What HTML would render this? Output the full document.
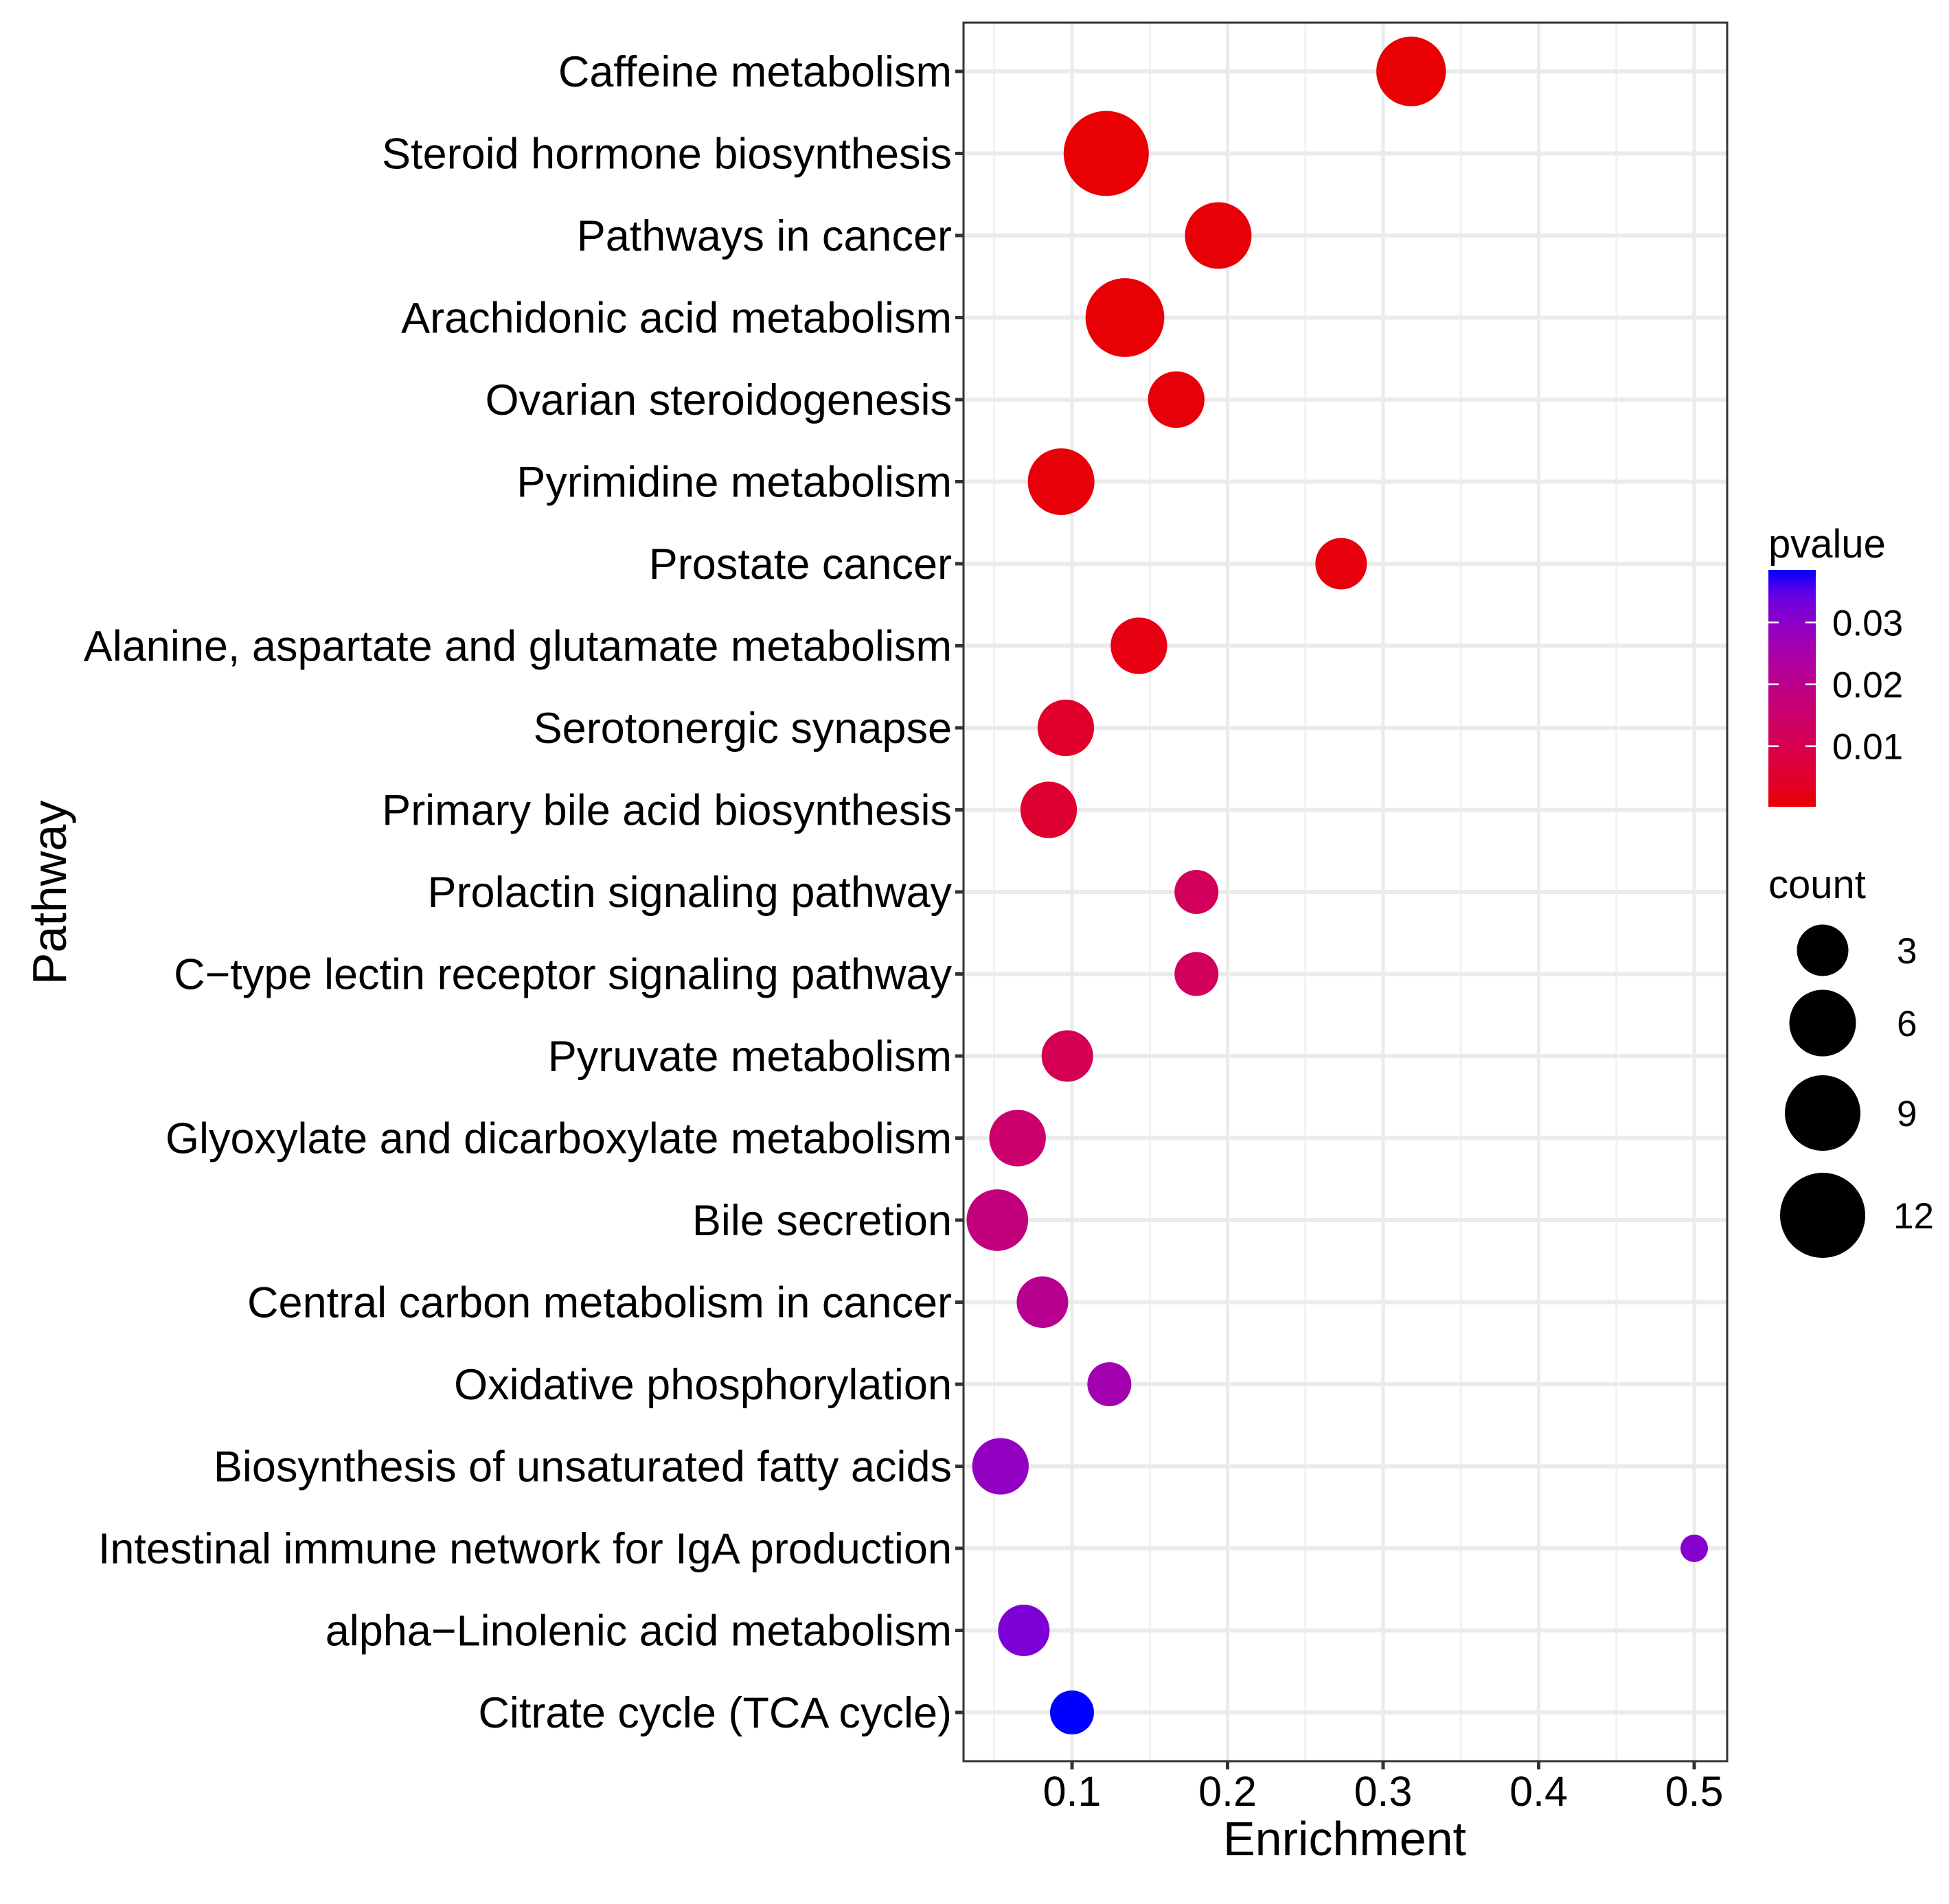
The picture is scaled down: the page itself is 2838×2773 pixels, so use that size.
<!DOCTYPE html>
<html><head><meta charset="utf-8"><style>
html,body{margin:0;padding:0;background:#fff;}
svg{display:block;font-family:"Liberation Sans",sans-serif;}
</style></head><body>
<svg id="chart" width="2838" height="2773" viewBox="0 0 2838 2773" xmlns="http://www.w3.org/2000/svg">
<defs><linearGradient id="pgrad" x1="0" y1="1" x2="0" y2="0"></linearGradient></defs>
</svg>
<script>
const pathways = ["Caffeine metabolism","Steroid hormone biosynthesis","Pathways in cancer","Arachidonic acid metabolism","Ovarian steroidogenesis","Pyrimidine metabolism","Prostate cancer","Alanine, aspartate and glutamate metabolism","Serotonergic synapse","Primary bile acid biosynthesis","Prolactin signaling pathway","C\u2212type lectin receptor signaling pathway","Pyruvate metabolism","Glyoxylate and dicarboxylate metabolism","Bile secretion","Central carbon metabolism in cancer","Oxidative phosphorylation","Biosynthesis of unsaturated fatty acids","Intestinal immune network for IgA production","alpha\u2212Linolenic acid metabolism","Citrate cycle (TCA cycle)"];
const enrichment = [0.318,0.122,0.194,0.134,0.167,0.093,0.273,0.143,0.096,0.085,0.180,0.180,0.097,0.065,0.052,0.081,0.124,0.054,0.500,0.069,0.100];
const counts = [7,12,6,10,4,6,3,4,4,4,2,2,3,4,5,3,2,4,1,3,2];
const pvalues = [0.0005,0.0004,0.0006,0.0005,0.0008,0.0009,0.0010,0.0015,0.0045,0.0055,0.0120,0.0125,0.0110,0.0150,0.0180,0.0210,0.0260,0.0290,0.0310,0.0320,0.0385];
const xTicks = [0.1,0.2,0.3,0.4,0.5];
const xTickLabels = ["0.1","0.2","0.3","0.4","0.5"];
const xMinor = [0.05,0.15,0.25,0.35,0.45];
const pTicks = [0.01,0.02,0.03];
const pTickLabels = ["0.01","0.02","0.03"];
const sizeBreaks = [3,6,9,12];
const sizeBreakLabels = ["3","6","9","12"];

const NS="http://www.w3.org/2000/svg";
const svg=document.getElementById('chart');
function mk(tag,attrs,parent){const e=document.createElementNS(NS,tag);for(const k in attrs)e.setAttribute(k,attrs[k]);(parent||svg).appendChild(e);return e;}

const PL=1403,PR=2515,PT=33,PB=2565;
const xScale=v=>1334.5+v*2265;
const yScale=i=>104+i*119.5;
const sizeTblC=[1,2,3,6,9,12], sizeTblD=[40,64,75,97,110,124];
function diam(c){for(let i=0;i<sizeTblC.length-1;i++){if(c<=sizeTblC[i+1]){const t=(c-sizeTblC[i])/(sizeTblC[i+1]-sizeTblC[i]);return sizeTblD[i]+t*(sizeTblD[i+1]-sizeTblD[i]);}}return sizeTblD[sizeTblD.length-1];}
const pMin=0.0002,pMax=0.0385;
function toLin(c){c/=255;return c<=0.04045?c/12.92:Math.pow((c+0.055)/1.055,2.4);}
function toS(c){c=c<=0.0031308?12.92*c:1.055*Math.pow(c,1/2.4)-0.055;return Math.max(0,Math.min(255,Math.round(c*255)));}
function rgb2lab(r,g,b){r=toLin(r);g=toLin(g);b=toLin(b);let X=(r*0.4124+g*0.3576+b*0.1805)/0.95047,Y=r*0.2126+g*0.7152+b*0.0722,Z=(r*0.0193+g*0.1192+b*0.9505)/1.08883;const f=t=>t>0.008856?Math.cbrt(t):7.787*t+16/116;X=f(X);Y=f(Y);Z=f(Z);return[116*Y-16,500*(X-Y),200*(Y-Z)];}
function lab2rgb(L,a,b){let Y=(L+16)/116,X=a/500+Y,Z=Y-b/200;const fi=t=>t*t*t>0.008856?t*t*t:(t-16/116)/7.787;X=fi(X)*0.95047;Y=fi(Y);Z=fi(Z)*1.08883;const r=X*3.2406+Y*-1.5372+Z*-0.4986,g=X*-0.9689+Y*1.8758+Z*0.0415,bb=X*0.0557+Y*-0.2040+Z*1.0570;return`rgb(${toS(r)},${toS(g)},${toS(bb)})`;}
const labR=rgb2lab(232,0,0),labB=rgb2lab(0,0,255);
function colorAt(t){t=Math.max(0,Math.min(1,t));return lab2rgb(labR[0]+(labB[0]-labR[0])*t,labR[1]+(labB[1]-labR[1])*t,labR[2]+(labB[2]-labR[2])*t);}
const pCol=p=>colorAt((p-pMin)/(pMax-pMin));

const panel=mk('rect',{x:PL,y:PT,width:PR-PL,height:PB-PT,fill:'#fff'});

xMinor.forEach(v=>{const l=mk('line',{x1:xScale(v),x2:xScale(v),y1:PT,y2:PB,stroke:'#f2f2f2','stroke-width':3});});
xTicks.forEach(v=>{const l=mk('line',{x1:xScale(v),x2:xScale(v),y1:PT,y2:PB,stroke:'#ebebeb','stroke-width':5});});
pathways.forEach((p,i)=>{const l=mk('line',{x1:PL,x2:PR,y1:yScale(i),y2:yScale(i),stroke:'#ebebeb','stroke-width':6});});
pathways.forEach((p,i)=>{const c=mk('circle',{cx:xScale(enrichment[i]),cy:yScale(i),r:diam(counts[i])/2,fill:pCol(pvalues[i])});});
const border=mk('rect',{x:PL,y:PT,width:PR-PL,height:PB-PT,fill:'none',stroke:'#333','stroke-width':3});

pathways.forEach((p,i)=>{const y=yScale(i);
const tk=mk('line',{x1:1391,x2:PL,y1:y,y2:y,stroke:'#333','stroke-width':5});
const t=mk('text',{x:1386,y:y+22,'text-anchor':'end','font-size':63,fill:'#000'});t.textContent=p;});
xTicks.forEach((v,i)=>{const x=xScale(v);
const tk=mk('line',{x1:x,x2:x,y1:PB,y2:PB+12,stroke:'#333','stroke-width':5});
const t=mk('text',{x:x,y:2630,'text-anchor':'middle','font-size':61,fill:'#000'});t.textContent=xTickLabels[i];});
const xt=mk('text',{x:1958,y:2702,'text-anchor':'middle','font-size':70,fill:'#000'});xt.textContent='Enrichment';
const yt=mk('text',{x:0,y:0,'text-anchor':'middle','font-size':70,fill:'#000',transform:'translate(96,1300) rotate(-90)'});yt.textContent='Pathway';
const grad=document.getElementById('pgrad');
for(let k=0;k<=10;k++){mk('stop',{offset:(k*10)+'%','stop-color':colorAt(k/10)},grad);}
const CB_L=2575,CB_R=2644,CB_T=830,CB_B=1175;
const pY=p=>CB_B-(p-pMin)/(pMax-pMin)*(CB_B-CB_T);
const pt=mk('text',{x:2575,y:812,'font-size':58,fill:'#000'});pt.textContent='pvalue';
const cb=mk('rect',{x:CB_L,y:CB_T,width:CB_R-CB_L,height:CB_B-CB_T,fill:'url(#pgrad)'});
pTicks.forEach((v,i)=>{const y=pY(v);
const a=mk('line',{x1:CB_L,x2:CB_L+15,y1:y,y2:y,stroke:'#fff','stroke-width':2.5});
const b=mk('line',{x1:CB_R-15,x2:CB_R,y1:y,y2:y,stroke:'#fff','stroke-width':2.5});
const t=mk('text',{x:2668,y:y+19,'font-size':53,fill:'#000'});t.textContent=pTickLabels[i];});
const ct=mk('text',{x:2575,y:1308,'font-size':58,fill:'#000'});ct.textContent='count';
const sY=[1384,1490,1621,1770];
sizeBreaks.forEach((c,i)=>{
const e=mk('circle',{cx:2654,cy:sY[i],r:diam(c)/2,fill:'#000'});
const t=mk('text',{x:c>=10?2757:2762,y:sY[i]+19,'font-size':53,fill:'#000'});t.textContent=sizeBreakLabels[i];});
</script>
</body></html>
